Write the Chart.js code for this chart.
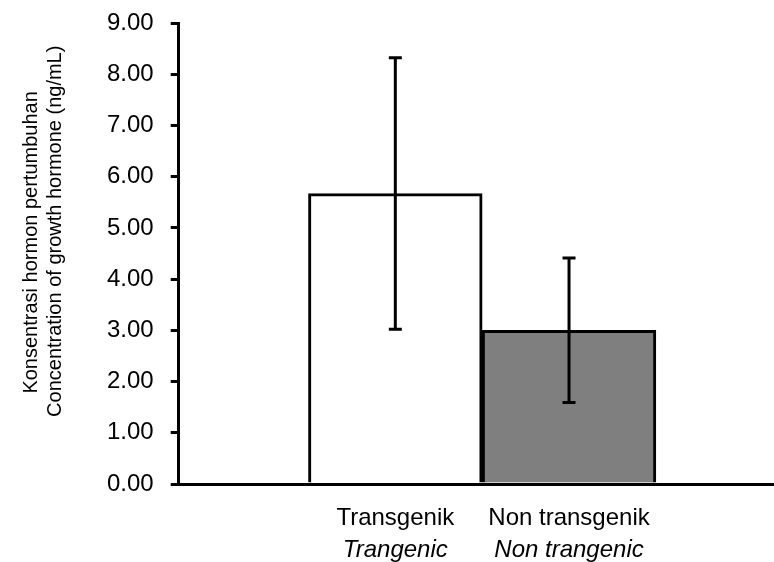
<!DOCTYPE html>
<html>
<head>
<meta charset="utf-8">
<script src="https://cdn.jsdelivr.net/npm/chart.js@4"></script>
<style>
  html, body { margin: 0; padding: 0; background: #fff; }
  #wrap { width: 774px; height: 562px; overflow: hidden; }
</style>
</head>
<body>
<div id="wrap"><canvas id="mainChart" width="774" height="562"></canvas></div>
<script>
// categories (Indonesian / English)
const kategori = ["Transgenik", "Non transgenik"];
const kategoriEn = ["Trangenic", "Non trangenic"];

// mean hormone concentration (ng/mL) and +/- error
const rataRata = [5.67, 3.00];
const galat = [2.65, 1.41];

const warnaBatang = ["#ffffff", "#7f7f7f"];

// leading spaces nudge the rotated title a bit upwards, like the original
const judulY = ["    Konsentrasi hormon pertumbuhan", "        Concentration of growth hormone (ng/mL)"];

const FONT = "'Liberation Sans', Arial, sans-serif";

// error bars drawn from the y scale
const errorBars = {
  id: "errorBars",
  afterDatasetsDraw(chart) {
    const c = chart.ctx;
    const y = chart.scales.y;
    const meta = chart.getDatasetMeta(0);
    c.save();
    c.strokeStyle = "#000";
    c.lineWidth = 3;
    meta.data.forEach((bar, i) => {
      const top = y.getPixelForValue(rataRata[i] + galat[i]);
      const bot = y.getPixelForValue(rataRata[i] - galat[i]);
      const cap = 6.5;
      c.beginPath();
      c.moveTo(bar.x, top);
      c.lineTo(bar.x, bot);
      c.moveTo(bar.x - cap, top);
      c.lineTo(bar.x + cap, top);
      c.moveTo(bar.x - cap, bot);
      c.lineTo(bar.x + cap, bot);
      c.stroke();
    });
    c.restore();
  }
};

// second (English, italic) line under each category label
const labelInggris = {
  id: "labelInggris",
  afterDraw(chart) {
    const c = chart.ctx;
    const x = chart.scales.x;
    c.save();
    c.fillStyle = "#000";
    c.font = "italic 24px " + FONT;
    c.textAlign = "center";
    c.textBaseline = "middle";
    kategoriEn.forEach((t, i) => {
      c.fillText(t, x.getPixelForValue(i), x.top + 66);
    });
    c.restore();
  }
};

const ctx = document.getElementById("mainChart").getContext("2d");

new Chart(ctx, {
  type: "bar",
  data: {
    datasets: [{
      data: rataRata.map((v, i) => ({ x: i, y: v })),
      backgroundColor: warnaBatang,
      borderColor: "#000",
      borderWidth: 3,
      barPercentage: 1,
      categoryPercentage: 1
    }]
  },
  options: {
    responsive: false,
    animation: false,
    layout: { padding: { top: 1, left: 19, right: 0, bottom: 10 } },
    plugins: {
      legend: { display: false },
      tooltip: { enabled: false }
    },
    scales: {
      x: {
        type: "linear",
        position: "bottom",
        min: -1.247,
        max: 2.18,
        offset: false,
        afterBuildTicks: axis => {
          axis.ticks = kategori.map((k, i) => ({ value: i }));
        },
        grid: { display: false, drawTicks: false },
        border: { display: true, color: "#000", width: 3 },
        ticks: {
          callback: v => kategori[v],
          color: "#000",
          padding: 19.6,
          maxRotation: 0,
          autoSkip: false,
          font: { family: FONT, size: 24, lineHeight: 1.2 }
        }
      },
      y: {
        min: 0,
        max: 9,
        ticks: {
          stepSize: 1,
          callback: v => v.toFixed(2),
          color: "#000",
          padding: 17,
          font: { family: FONT, size: 24, lineHeight: 0.5 }
        },
        grid: {
          drawOnChartArea: false,
          drawTicks: true,
          tickLength: 8,
          color: "#000",
          lineWidth: 3
        },
        border: { display: true, color: "#000", width: 3 },
        title: {
          display: true,
          text: judulY,
          color: "#000",
          padding: { top: 0, bottom: 23 },
          font: { family: FONT, size: 20, lineHeight: 1.2 }
        }
      }
    }
  },
  plugins: [errorBars, labelInggris]
});
</script>
</body>
</html>
